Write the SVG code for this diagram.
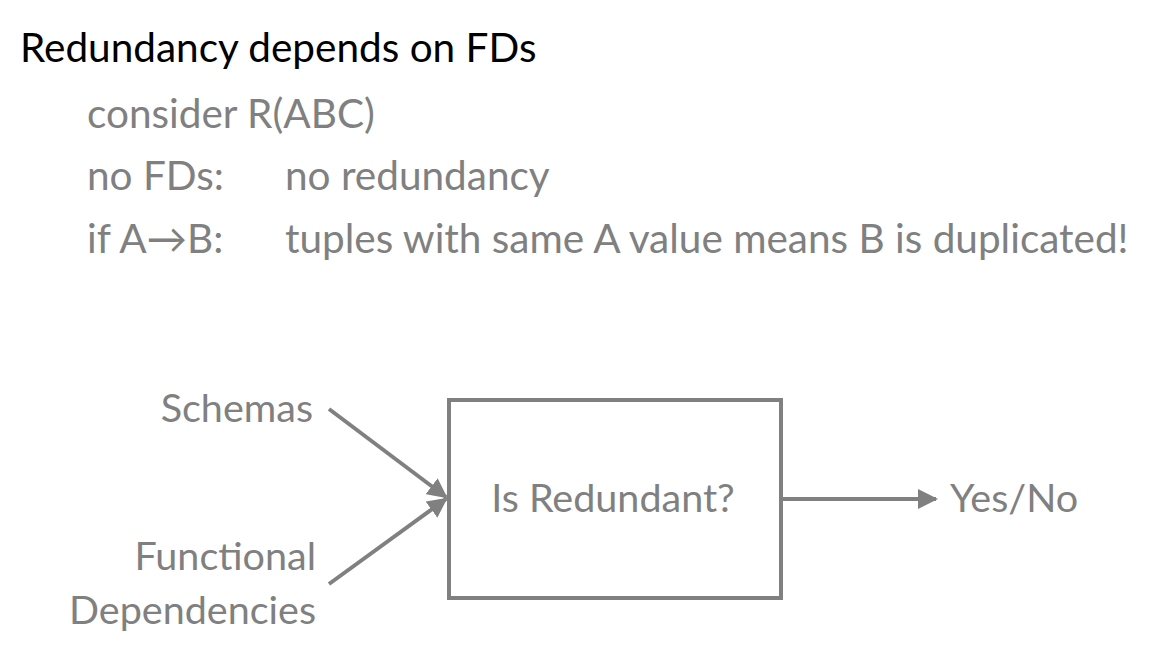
<svg xmlns="http://www.w3.org/2000/svg" width="1159" height="655" viewBox="0 0 1159 655">
<style>
text{font-family:"Lato","Open Sans","Liberation Sans",sans-serif}
.t{fill:#000;font-size:40.5px}
.b{fill:#808080;font-size:40.5px}
.d{fill:#808080;font-size:39.5px}
.ln{stroke:#808080;stroke-width:4;fill:none}
</style>
<defs>
<marker id="ah" viewBox="0 0 10 10" refX="9" refY="5" markerWidth="5" markerHeight="5" orient="auto" markerUnits="strokeWidth">
<path d="M0,0 L10,5 L0,10 z" fill="#808080"/>
</marker>
</defs>
<rect width="1159" height="655" fill="#fff"/>
<g id="title"><text class="t" x="20" y="62">Redundancy depends on FDs</text></g>
<g id="bullets">
<text class="b" x="87" y="128">consider R(ABC)</text>
<text class="b" x="87" y="190">no FDs:</text>
<text class="b" x="285" y="190">no redundancy</text>
<text class="b" x="87" y="253">if A→B:</text>
<text class="b" x="285" y="253">tuples with same A value means B is duplicated!</text>
</g>
<g id="schemas"><text class="d" x="313" y="422" text-anchor="end">Schemas</text></g>
<g id="fds"><text class="d" x="316" y="570" text-anchor="end">Functional</text><text class="d" x="316" y="624" text-anchor="end">Dependencies</text></g>
<g id="box"><rect class="ln" x="449" y="400" width="332" height="198"/><text class="d" x="613" y="512" text-anchor="middle">Is Redundant?</text></g>
<g id="out"><text class="d" x="950" y="512">Yes/No</text></g>
<g id="connectors">
<line class="ln" x1="329" y1="409" x2="446" y2="497" marker-end="url(#ah)"/>
<line class="ln" x1="329" y1="584" x2="446" y2="499" marker-end="url(#ah)"/>
<line class="ln" x1="783" y1="499" x2="936" y2="499" stroke-width="3" marker-end="url(#ah)"/>
</g>
</svg>
